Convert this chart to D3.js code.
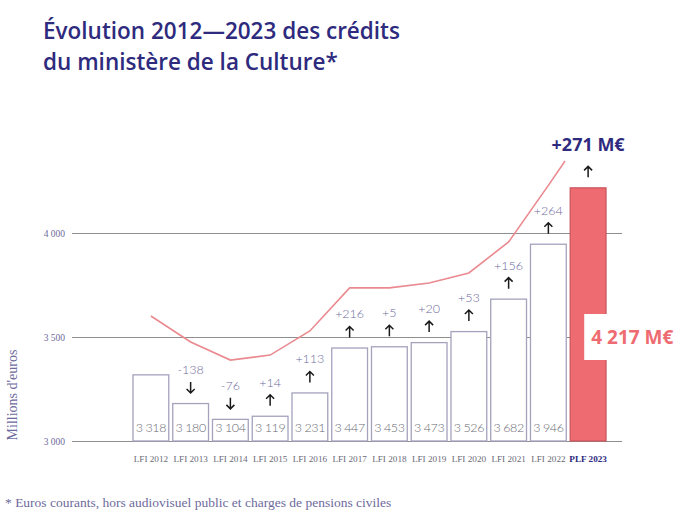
<!DOCTYPE html>
<html><head><meta charset="utf-8">
<script src="https://cdn.jsdelivr.net/npm/d3@7"></script>
<style>body{margin:0;background:#fff}svg{display:block}</style>
</head><body>
<svg id="c" width="680" height="520"></svg>
<script>
const categories = ["LFI 2012","LFI 2013","LFI 2014","LFI 2015","LFI 2016","LFI 2017","LFI 2018","LFI 2019","LFI 2020","LFI 2021","LFI 2022","PLF 2023"];
const values = [3318,3180,3104,3119,3231,3447,3453,3473,3526,3682,3946,4217];
const changes = [null,"-138","-76","+14","+113","+216","+5","+20","+53","+156","+264","+271 M€"];
const directions = [null,"down","down","up","up","up","up","up","up","up","up","up"];
const trendIndex = [0,1,2,3,4,5,6,7,8,9,10,10.42];
const trendValues = [3601,3476,3389,3413,3529,3736,3736,3760,3808,3957,4229,4346];
const yTicks = [3000,3500,4000];
const tickLabels = ["3 000","3 500","4 000"];
const totalLabel = "4 217 M€";
const fmt = v => String(v).replace(/\B(?=(\d{3})+(?!\d))/g, " ");

const svg = d3.select("#c");
const navy = "#2e2a7e", lav = "#6e6a9c", red = "#ee6b71", pink = "#ea8a90";

const y = d3.scaleLinear().domain([3000,4000]).range([441,233]);
const x = d3.scaleBand().domain(categories).range([133,606]).paddingInner(0.1).paddingOuter(0);
const bw = x.bandwidth();
const xi = d3.scaleLinear().domain([0, categories.length-1])
  .range([x(categories[0])+bw/2, x(categories[categories.length-1])+bw/2]);

// title
const title = svg.append("g").attr("font-family","'Open Sans', sans-serif").attr("font-weight",600)
  .attr("fill",navy).attr("font-size",22.5);
title.append("text").attr("x",43).attr("y",39).text("Évolution 2012—2023 des crédits");
title.append("text").attr("x",43).attr("y",70).text("du ministère de la Culture*");

// gridlines + y ticks
const yAxis = d3.axisLeft(y).tickValues(yTicks).tickSize(-550)
  .tickFormat((d,i)=>tickLabels[i]).tickPadding(7);
const ga = svg.append("g").attr("transform","translate(72,0)").call(yAxis);
ga.select(".domain").remove();
ga.selectAll(".tick line").attr("stroke","#8f8f8f").attr("stroke-width",1);
ga.selectAll(".tick text").attr("fill",lav).attr("font-family","'Liberation Serif', serif")
  .attr("font-size",9.5).attr("x",-7);

// y title
svg.append("text").attr("transform","translate(17,395) rotate(-90)").attr("text-anchor","middle")
  .attr("font-family","'Liberation Serif', serif").attr("font-size",14).attr("fill",lav)
  .text("Millions d'euros");

// bars
const last = categories.length-1;
svg.append("g").selectAll("rect").data(values).join("rect")
  .attr("x",(d,i)=>x(categories[i])).attr("width",bw)
  .attr("y",d=>y(d)).attr("height",d=>y(3000)-y(d))
  .attr("fill",(d,i)=>i===last?red:"#fff")
  .attr("stroke",(d,i)=>i===last?"#c9575e":"#a4a2bd").attr("stroke-width",1.3);

// value labels inside bars
svg.append("g").selectAll("text").data(values.slice(0,last)).join("text")
  .attr("x",(d,i)=>x(categories[i])+bw/2).attr("y",428).attr("dy","0.35em")
  .attr("text-anchor","middle").attr("font-family","Lato, sans-serif").attr("font-weight",300)
  .attr("font-size",12.5).attr("letter-spacing",-0.4).attr("fill","#6a6a74").text(d=>fmt(d));

// trend line
svg.append("path").datum(trendValues.map((v,i)=>[trendIndex[i],v]))
  .attr("fill","none").attr("stroke",pink).attr("stroke-width",1.6)
  .attr("d",d3.line().x(d=>xi(d[0])).y(d=>y(d[1])));

// change labels & arrows
const cg = svg.append("g");
changes.forEach((c,i)=>{
  if(!c) return;
  const cx = x(categories[i])+bw/2, top = y(values[i]);
  const isLast = i===last;
  cg.append("text").attr("x",cx).attr("y",isLast?top-43:top-34).attr("dy","0.35em")
    .attr("text-anchor","middle")
    .attr("font-family",isLast?"'Open Sans', sans-serif":"Lato, sans-serif")
    .attr("font-weight",isLast?700:300).attr("font-size",isLast?18:12.5)
    .attr("fill",isLast?navy:lav).text(c);
  const ay = top-16, h = 5.5, s = directions[i]==="up"?-1:1;
  const p = d3.path();
  p.moveTo(cx, ay - s*h); p.lineTo(cx, ay + s*h);
  p.moveTo(cx-4, ay + s*(h-4)); p.lineTo(cx, ay + s*h); p.lineTo(cx+4, ay + s*(h-4));
  cg.append("path").attr("d",p.toString()).attr("fill","none").attr("stroke","#1a1a1a")
    .attr("stroke-width",1.5).attr("stroke-linejoin","miter");
});

// total callout
const bx = x(categories[last]);
svg.append("rect").attr("x",bx+14).attr("y",y(3500)-23).attr("width",680-(bx+14)).attr("height",46)
  .attr("fill","#fff");
svg.append("text").attr("x",bx+21).attr("y",y(3500)).attr("dy","0.36em")
  .attr("font-family","'Open Sans', sans-serif").attr("font-weight",700).attr("font-size",19)
  .attr("fill",red).text(totalLabel);

// x labels
svg.append("g").selectAll("text").data(categories).join("text")
  .attr("x",d=>x(d)+bw/2).attr("y",459).attr("dy","0.35em").attr("text-anchor","middle")
  .attr("font-family","'Liberation Serif', serif").attr("font-size",9.2)
  .attr("font-weight",(d,i)=>i===last?700:400)
  .attr("fill",(d,i)=>i===last?navy:"#6a6a78").text(d=>d);

// footnote
svg.append("text").attr("x",5).attr("y",507).attr("font-family","'Liberation Serif', serif")
  .attr("font-size",13.5).attr("fill",lav)
  .text("* Euros courants, hors audiovisuel public et charges de pensions civiles");
</script>
</body></html>
